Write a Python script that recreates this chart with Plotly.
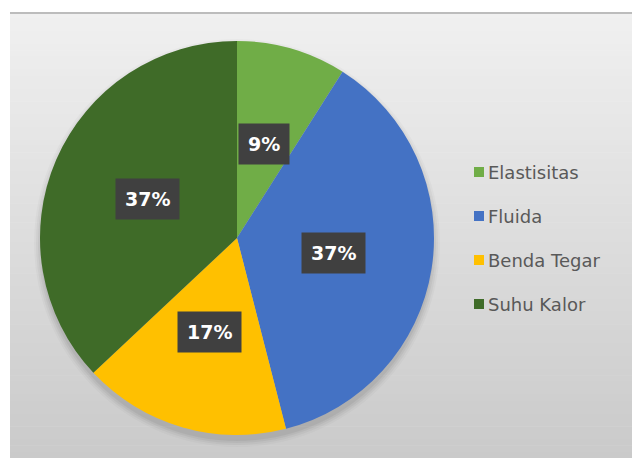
import math
import plotly.graph_objects as go

# ---- data ----
categories = ["Elastisitas", "Fluida", "Benda Tegar", "Suhu Kalor"]
values = [9, 37, 17, 37]
colors = ["#70AD47", "#4472C4", "#FFC000", "#3F6B28"]

W, H = 632, 458
CX, CY, R = 237, 238, 197  # pie centre / radius in pixels


def px(x):
    return x / W


def py(y):
    return 1 - y / H


fig = go.Figure()
fig.add_trace(go.Pie(
    labels=categories,
    values=values,
    sort=False,
    direction="clockwise",
    rotation=0,
    marker=dict(colors=colors, line=dict(width=0)),
    textinfo="none",
    hoverinfo="label+percent",
    showlegend=False,
    domain=dict(x=[px(CX - R), px(CX + R)], y=[py(CY + R), py(CY - R)]),
))

shapes = []
# background panel gradient
x0p, y0p = 10, 12
N = 70
top = (240, 240, 240)
bot = (202, 202, 202)
for i in range(N):
    t = i / (N - 1)
    c = tuple(int(round(top[k] + (bot[k] - top[k]) * t)) for k in range(3))
    ya = y0p + (H - y0p) * i / N
    yb = y0p + (H - y0p) * (i + 1) / N + 0.6
    shapes.append(dict(type="rect", xref="paper", yref="paper", layer="below",
                       x0=px(x0p), x1=1, y0=py(yb), y1=py(ya),
                       fillcolor="rgb(%d,%d,%d)" % c, line=dict(width=0)))
# top edge line
shapes.append(dict(type="rect", xref="paper", yref="paper", layer="below",
                   x0=px(x0p), x1=1, y0=py(14), y1=py(12),
                   fillcolor="#bcbcbc", line=dict(width=0)))
# soft pie shadow (mostly below)
for k, a in [(7, 0.025), (5, 0.035), (3, 0.045), (1, 0.05)]:
    shapes.append(dict(type="circle", xref="paper", yref="paper", layer="below",
                       x0=px(CX - R - k + 1), x1=px(CX + R + k - 1),
                       y0=py(CY + 5 + R + k), y1=py(CY + 5 - R - k),
                       fillcolor="rgba(0,0,0,%g)" % a, line=dict(width=0)))

annotations = []
# data labels in dark boxes
total = sum(values)
cum = 0
for v in values:
    mid = (cum + v / 2) / total * 2 * math.pi
    cum += v
    r = 0.495 * R
    lx = CX + r * math.sin(mid)
    ly = CY - r * math.cos(mid)
    txt = "<b>%d%%</b>" % round(v / total * 100)
    annotations.append(dict(x=px(lx), y=py(ly), xref="paper", yref="paper",
                            xanchor="center", yanchor="middle",
                            text=txt, showarrow=False,
                            font=dict(family="DejaVu Sans", size=19, color="white"),
                            bgcolor="#404040", borderpad=9))

# custom legend
LX, LY0, LDY = 479, 172, 44
for i, (name, col) in enumerate(zip(categories, colors)):
    yy = LY0 + i * LDY
    shapes.append(dict(type="rect", xref="paper", yref="paper",
                       x0=px(LX - 5), x1=px(LX + 5), y0=py(yy + 5), y1=py(yy - 5),
                       fillcolor=col, line=dict(width=0)))
    annotations.append(dict(x=px(LX + 7), y=py(yy), xref="paper", yref="paper",
                            xanchor="left", yanchor="middle", text=name, showarrow=False,
                            font=dict(family="DejaVu Sans", size=18, color="#595959")))

fig.update_layout(
    width=W, height=H,
    margin=dict(l=0, r=0, t=0, b=0),
    paper_bgcolor="white",
    plot_bgcolor="white",
    shapes=shapes,
    annotations=annotations,
    showlegend=False,
)

fig.write_html("out.html")
